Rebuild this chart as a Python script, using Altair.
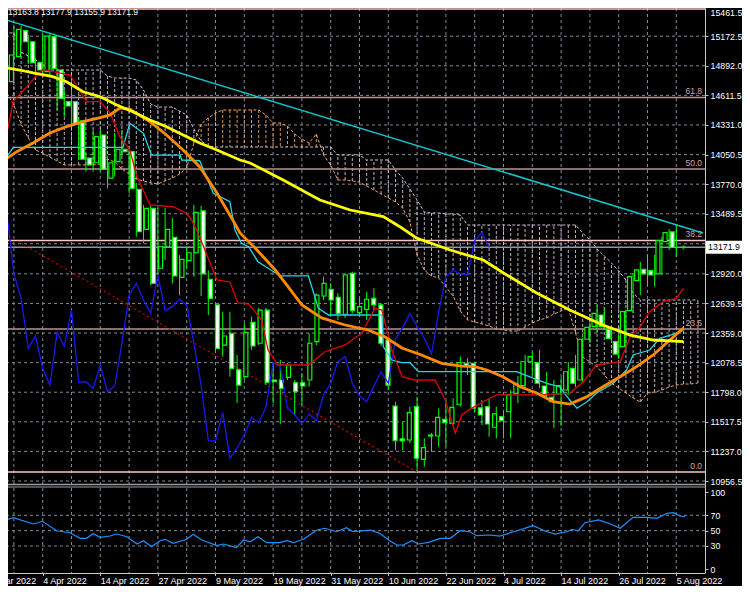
import altair as alt
import pandas as pd

# ---------------- data (bar index 0 = 4 Apr 2022, daily bars) ----------------
bar_index = list(range(-5, 89))
opens = [14741, 14978, 15225, 15120, 14921, 14836, 15168, 14852, 14552, 14552,
         14369, 14018, 13973, 14236, 13828, 13983, 14100, 14078, 13721, 13342,
         13541, 12973, 13177, 13266, 12887, 13045, 13120, 13516, 12868, 12625,
         12245, 12356, 12009, 11945, 12461, 12262, 12577, 11914, 11914, 11939,
         11888, 11888, 11914, 12277, 12710, 12773, 12698, 12537, 12925, 12552,
         12584, 12688, 12625, 12293, 11667, 11355, 11345, 11661, 11162, 11383,
         11383, 11541, 11503, 11684, 12072, 12072, 11649, 11661, 11466, 11566,
         11613, 11788, 11860, 12087, 12078, 11857, 11750, 11781, 11819, 12025,
         11914, 12300, 12419, 12530, 12395, 12277, 12230, 12571, 12855, 12963,
         12950, 12919, 13225, 13317]
highs = [15013, 15279, 15269, 15184, 14966, 15193, 15203, 14871, 14662, 14662,
         14407, 14065, 14283, 14283, 14030, 14255, 14283, 14113, 13781, 13573,
         13563, 13544, 13544, 13449, 13099, 13177, 13573, 13566, 12950, 12625,
         12561, 12561, 12151, 12454, 12514, 12596, 12596, 12072, 12103, 12075,
         11914, 11980, 12356, 12735, 12893, 12830, 12738, 12925, 12940, 12688,
         12751, 12783, 12641, 12324, 11708, 11519, 11661, 11756, 11361, 11411,
         11646, 11724, 11740, 12135, 12119, 12087, 11724, 11743, 11661, 11630,
         11819, 11952, 12151, 12179, 12198, 11990, 11914, 11940, 12084, 12151,
         12312, 12454, 12625, 12606, 12435, 12340, 12577, 12928, 13035, 13099,
         13099, 13272, 13345, 13383]
lows = [14662, 14947, 15089, 14909, 14824, 14805, 14805, 14473, 14410, 14312,
        13999, 13888, 13888, 13888, 13731, 13841, 14037, 13686, 13272, 13209,
        12814, 12925, 13051, 12830, 12720, 12973, 12893, 12710, 12530, 12170,
        12135, 11945, 11696, 11914, 12198, 12245, 11866, 11693, 11497, 11914,
        11582, 11677, 11850, 12245, 12672, 12530, 12482, 12502, 12546, 12514,
        12482, 12577, 12236, 11819, 11250, 11250, 11317, 11045, 11092, 11234,
        11282, 11282, 11487, 11661, 11961, 11611, 11487, 11376, 11361, 11361,
        11364, 11696, 11838, 11961, 11838, 11724, 11459, 11480, 11772, 11847,
        11885, 12264, 12359, 12388, 12274, 12122, 12198, 12549, 12719, 12814,
        12798, 12909, 13146, 13080]
closes = [14994, 15238, 15120, 14921, 14852, 15174, 14868, 14584, 14511, 14340,
          14006, 13952, 14220, 13911, 13973, 14100, 14078, 13731, 13319, 13541,
          12830, 13177, 13342, 12900, 13058, 13120, 13503, 12919, 12688, 12214,
          12331, 12025, 11866, 12366, 12236, 12577, 11892, 11898, 11835, 12056,
          11803, 11857, 12262, 12719, 12830, 12672, 12546, 12909, 12571, 12609,
          12679, 12625, 12262, 11866, 11339, 11336, 11604, 11172, 11272, 11393,
          11560, 11509, 11655, 12078, 12047, 11646, 11582, 11497, 11592, 11528,
          11772, 11883, 12087, 12135, 11883, 11765, 11708, 11860, 11992, 11883,
          12300, 12413, 12546, 12419, 12309, 12160, 12561, 12893, 12957, 12919,
          12909, 13234, 13310, 13171.9]

date_tick_index = list(range(-8, 89, 8))
date_tick_labels = ["23 Mar 2022", "4 Apr 2022", "14 Apr 2022", "27 Apr 2022",
                    "9 May 2022", "19 May 2022", "31 May 2022", "10 Jun 2022",
                    "22 Jun 2022", "4 Jul 2022", "14 Jul 2022", "26 Jul 2022",
                    "5 Aug 2022"]
price_ticks = [15461.5, 15172.5, 14892.0, 14611.5, 14331.0, 14050.5, 13770.0,
               13489.5, 12920.0, 12639.5, 12359.0, 12078.5, 11798.0, 11517.5,
               11237.0, 10956.5]
price_grid_extra = [13205.0]
rsi_ticks = [0, 30, 50, 70, 100]
rsi_grid = [30, 50, 70]

# moving averages (sampled vertices: bar index, price)
yellow_idx = [-5.9, -3.2, -1.35, 1.4, 3.3, 5.6, 8.0, 10.3, 12.5, 14.9,
              17.2, 19.5, 21.8, 24.2, 27.4, 28.8, 33.4, 38.5, 42.7, 47.3,
              49.6, 51.9, 56.6, 61.2, 64.0, 68.6, 73.2, 77.8, 81.6, 84.8, 89.0]
yellow_val = [14883, 14852, 14824, 14789, 14741, 14646, 14599, 14520, 14457, 14378,
              14315, 14236, 14160, 14094, 13999, 13971, 13810, 13620, 13525, 13462,
              13367, 13260, 13146, 13051, 12928, 12738, 12577, 12435, 12340, 12293, 12277]
orange_idx = [-5.9, -3.6, -1.35, 1.0, 3.3, 5.6, 8.0, 9.35, 10.7, 12.1,
              14.9, 17.2, 19.5, 21.8, 24.2, 26.4, 27.4, 29.5, 32.3, 36.0,
              38.75, 42.0, 45.2, 47.5, 49.9, 52.6, 55.4, 58.2, 60.0, 61.7,
              63.9, 66.3, 68.6, 70.9, 73.2, 75.6, 77.8, 80.2, 82.5, 84.8, 87.1, 89.0]
orange_val = [13971, 14078, 14160, 14255, 14315, 14362, 14400, 14426, 14492, 14482,
              14362, 14236, 14094, 13936, 13686, 13430, 13307, 13165, 12957, 12625,
              12502, 12435, 12388, 12324, 12217, 12151, 12072, 12046, 12040, 12009,
              11945, 11850, 11791, 11708, 11686, 11756, 11850, 11945, 12040, 12151, 12293, 12405]

# Ichimoku: tenkan (red), kijun (cyan)
tenkan_idx = [-5.7, -4.1, -2.2, -0.8, 0.1, 1.4, 3.8, 6.1, 8.0, 9.35,
              10.7, 12.1, 13.1, 14.9, 18.1, 20.0, 20.7, 21.8, 23.2, 24.2,
              26.0, 27.1, 28.6, 30.4, 31.3, 32.7, 36.9, 39.2, 42.0, 44.3,
              46.15, 47.1, 48.5, 49.9, 51.7, 54.5, 55.9, 57.3, 58.2, 59.3,
              61.2, 63.05, 68.6, 73.2, 75.1, 76.9, 80.2, 81.6, 83.0, 84.3,
              86.2, 88.0, 89.0]
tenkan_val = [13999, 14552, 14694, 14805, 14859, 14836, 14805, 14552, 14552, 14445,
              14220, 14094, 13841, 13573, 13556, 13494, 13430, 13269, 13032, 12862,
              12843, 12644, 12634, 12483, 12198, 12056, 12056, 12182, 12246, 12356,
              12593, 12577, 12198, 11945, 11914, 11914, 11724, 11409, 11582, 11636,
              11708, 11772, 11772, 11788, 11898, 12056, 12087, 12324, 12419, 12561,
              12656, 12688, 12783]
kijun_idx = [-5.9, -4.1, 11.15, 12.1, 14.0, 15.1, 19.1, 19.3, 21.8, 23.7,
             26.0, 26.7, 27.6, 28.6, 29.9, 33.0, 36.9, 38.3, 39.7, 47.1,
             47.3, 48.5, 49.9, 51.0, 52.2, 65.8, 70.0, 71.8, 73.2, 74.2,
             75.6, 76.9, 79.25, 81.1, 82.0, 84.3, 85.7, 88.0, 89.0]
kijun_val = [13936, 14119, 14119, 14347, 14252, 14046, 14046, 13999, 13992, 13683,
             13604, 13336, 13210, 13177, 13035, 12900, 12900, 12593, 12530, 12530,
             12230, 12103, 12078, 12078, 11993, 11993, 11883, 11850, 11724, 11646,
             11708, 11788, 11883, 12009, 12151, 12198, 12309, 12356, 12388]

# Ichimoku cloud (Senkou span A / B), one value per bar from -6 to 91
span_idx = list(range(-6, 92))
span_a = [14700, 14634, 14520, 14340, 14208, 14094, 14065, 14027, 13990, 13952,
          13952, 13952, 13952, 13952, 13961, 14008, 13980, 13914, 13866, 13819,
          13800, 13781, 13772, 13800, 13828, 13866, 13923, 14160, 14340, 14397,
          14444, 14473, 14473, 14473, 14473, 14473, 14473, 14425, 14350, 14350,
          14321, 14245, 14198, 14160, 14245, 14046, 13952, 13809, 13809, 13800,
          13790, 13753, 13715, 13677, 13639, 13601, 13544, 13411, 13099, 12956,
          12900, 12881, 12795, 12710, 12568, 12483, 12464, 12445, 12426, 12397,
          12388, 12378, 12378, 12416, 12454, 12483, 12502, 12539, 12568, 12596,
          12359, 12132, 12085, 12037, 11961, 11885, 11838, 11791, 11743, 11705,
          11791, 11800, 11819, 11847, 11866, 11876, 11876, 11885]
span_b = ([15203, 15203, 15203, 15023, 14985, 14947, 14909] + [14852] * 8 +
          [14795, 14776, 14776, 14776, 14757, 14662, 14530, 14501, 14501, 14501,
           14463, 14425, 14293, 14179, 14132] + [14122] * 17 + [14046] * 4 +
          [13999] * 4 +
          [13904, 13828, 13724, 13620, 13506, 13497, 13497, 13487, 13487, 13478] +
          [13383] * 16 + [13307, 13241, 13156, 13089, 13023, 12947, 12862] +
          [12739] + [12672] * 9)

# RSI (sub window)
rsi_idx = [-5.9, -4.1, -1.3, 0.0, 1.9, 3.8, 5.2, 6.1, 7.0, 8.0,
           9.35, 10.3, 11.7, 13.1, 14.0, 15.1, 16.3, 17.0, 18.1, 20.0,
           20.9, 22.1, 24.2, 25.1, 26.9, 27.9, 28.8, 29.9, 31.1, 32.9,
           33.9, 34.8, 36.2, 38.1, 39.2, 40.8, 42.2, 43.1, 45.5, 46.8,
           48.2, 49.2, 50.1, 51.25, 52.2, 53.6, 55.2, 56.6, 58.0, 59.3,
           60.3, 62.1, 63.5, 65.4, 68.1, 70.0, 71.2, 72.8, 73.5, 74.4,
           75.3, 77.2, 78.6, 80.2, 82.0, 83.9, 85.3, 86.7, 87.6, 88.5, 89.2]
rsi_val = [61.7, 66.9, 58.7, 62.2, 49.9, 47.3, 40.0, 40.0, 46.0, 41.3,
           43.0, 45.6, 42.1, 32.6, 36.9, 29.1, 36.9, 38.7, 33.5, 38.7,
           45.2, 37.8, 30.4, 32.6, 27.8, 37.8, 35.5, 42.1, 34.3, 34.3,
           36.9, 34.3, 38.7, 50.8, 53.1, 48.6, 53.8, 48.6, 50.8, 46.5,
           36.9, 31.3, 31.3, 36.9, 32.6, 34.8, 40.0, 40.0, 49.9, 48.6,
           43.4, 44.3, 43.0, 48.6, 56.5, 48.6, 45.6, 48.6, 51.8, 49.9,
           60.4, 63.9, 59.6, 53.1, 67.4, 67.4, 66.1, 72.6, 73.4, 69.1, 68.2]

# Fibonacci retracement
fib_labels = ["0.0", "23.6", "38.2", "50.0", "61.8", ""]
fib_prices = [11042, 12398, 13237, 13914.5, 14592, 15431]
fib_colors = ["#FFC4C8", "#B89494", "#FFC4C8", "#B89494", "#B89494", "#FFC4C8"]

# trend lines
cyan_tl_idx = [-5.93, 91.7]
cyan_tl_val = [15345, 13307]
red_tl_idx = [-5.93, 52.0]
red_tl_val = [13326, 11042]

last_price = 13171.9
header_text = "13163.8 13177.9 13155.9 13171.9"

# ---------------- styling / geometry ----------------
W, H = 734, 578
FONT = "Liberation Sans"
GRID = "#7d8b99"
X_LEFT, X_RIGHT = -5.93, 91.99
XS = alt.Scale(domain=[-8, 97.125], range=[-22.9, W], nice=False, zero=False)
PS = alt.Scale(domain=[9961.4, 15461.5], range=[H, -2.3], nice=False, zero=False)
RS = alt.Scale(domain=[-22.16, 731.4], range=[H, 0], nice=False, zero=False)
AX_X = 697      # right edge of the price window
AX_Y = 565.5    # bottom edge of the RSI window
LBL = 8.8


def xq(f, axis=None):
    return alt.X(f"{f}:Q", scale=XS, axis=axis)


def yp(f, axis=None):
    return alt.Y(f"{f}:Q", scale=PS, axis=axis)


def yr(f, axis=None):
    return alt.Y(f"{f}:Q", scale=RS, axis=axis)


label_list = "[" + ",".join(f"'{s}'" for s in date_tick_labels) + "]"
x_axis = alt.Axis(orient="bottom", offset=AX_Y - H, values=date_tick_index,
                  labelExpr=f"{label_list}[(datum.value + 8) / 8]",
                  labelAlign="left", labelBaseline="top", labelFlush=False,
                  labelOverlap=False, labelColor="#FFFFFF", labelFont=FONT,
                  labelFontSize=9, labelPadding=1, tickColor="#C8C8C8",
                  tickSize=2, domain=False, grid=False, title=None, zindex=2)
p_axis = alt.Axis(orient="right", offset=AX_X - W, values=price_ticks, format=".1f",
                  labelColor="#FFFFFF", labelFont=FONT, labelFontSize=LBL,
                  labelPadding=2, labelFlush=False, labelOverlap=False,
                  labelOffset=alt.condition("datum.value > 15400", alt.value(7), alt.value(0)),
                  tickColor="#C8C8C8", tickSize=3, domain=False, grid=False,
                  title=None, zindex=2)
r_axis = alt.Axis(orient="right", offset=AX_X - W, values=rsi_ticks, format="d",
                  labelColor="#FFFFFF", labelFont=FONT, labelFontSize=LBL,
                  labelPadding=2, labelFlush=False, labelOverlap=False,
                  tickColor="#C8C8C8", tickSize=3, domain=False, grid=False,
                  title=None, zindex=2)

# ---------------- frames ----------------
cdf = pd.DataFrame({"i": bar_index, "o": opens, "h": highs, "l": lows, "c": closes})
cdf["lo"] = cdf[["o", "c"]].min(axis=1)
cdf["hi"] = cdf[["o", "c"]].max(axis=1)
cdf["fill"] = ["#000000" if c >= o else "#FFFFFF" for o, c in zip(opens, closes)]

chikou = pd.DataFrame({"i": bar_index[:-26], "p": closes[26:]})

cloud = pd.DataFrame({"i": span_idx, "a": span_a, "b": span_b})
cloud["col"] = ["#F4A460" if a > b else "#D8BFD8" for a, b in zip(span_a, span_b)]

vgrid = pd.DataFrame({"i": list(range(-4, 89, 4))})
hgrid = pd.DataFrame({"p": price_ticks + price_grid_extra, "x0": X_LEFT, "x1": X_RIGHT})
rgrid = pd.DataFrame({"r": rsi_grid, "x0": X_LEFT, "x1": X_RIGHT})
fib = pd.DataFrame({"p": fib_prices, "lab": fib_labels, "col": fib_colors,
                    "x0": X_LEFT, "x1": X_RIGHT})
last = pd.DataFrame({"p": [last_price], "x0": X_LEFT, "x1": X_RIGHT,
                     "lo": [last_price - 62], "hi": [last_price + 62],
                     "txt": [f"{last_price:.1f}"], "i": [89.0]})
one = pd.DataFrame({"k": [0]})

# ---------------- layers ----------------
l_vgrid = alt.Chart(vgrid).mark_rule(color=GRID, strokeDash=[3, 3], strokeWidth=1).encode(
    x=xq("i", x_axis), y=alt.value(0), y2=alt.value(AX_Y))
l_hgrid = alt.Chart(hgrid).mark_rule(color=GRID, strokeDash=[3, 3], strokeWidth=1).encode(
    x=xq("x0"), x2="x1:Q", y=yp("p", p_axis))
l_rgrid = alt.Chart(rgrid).mark_rule(color=GRID, strokeDash=[3, 3], strokeWidth=1).encode(
    x=xq("x0"), x2="x1:Q", y=yr("r", r_axis))

l_hatch = alt.Chart(cloud).mark_rule(strokeDash=[3, 2], strokeWidth=1, opacity=0.9).encode(
    x=xq("i"), y=yp("a"), y2="b:Q", color=alt.Color("col:N", scale=None))
l_spana = alt.Chart(cloud).mark_line(color="#F4A460", strokeDash=[3, 2], strokeWidth=1).encode(
    x=xq("i"), y=yp("a"))
l_spanb = alt.Chart(cloud).mark_line(color="#D8BFD8", strokeDash=[3, 2], strokeWidth=1).encode(
    x=xq("i"), y=yp("b"))

l_fib = alt.Chart(fib).mark_rule(strokeWidth=1.5).encode(
    x=xq("x0"), x2="x1:Q", y=yp("p"), color=alt.Color("col:N", scale=None))
l_fibtxt = alt.Chart(fib).mark_text(align="right", baseline="bottom", dy=-1, font=FONT,
                                    fontSize=8.5, color="#D4A5A5").encode(
    x=alt.value(AX_X - 3), y=yp("p"), text="lab:N")
l_bid = alt.Chart(last).mark_rule(color="#8a98a8", strokeWidth=1.5).encode(
    x=xq("x0"), x2="x1:Q", y=yp("p"))

l_cyan_tl = alt.Chart(pd.DataFrame({"i": cyan_tl_idx, "p": cyan_tl_val})).mark_line(
    color="#12C4CC", strokeWidth=1.5).encode(x=xq("i"), y=yp("p"))
l_red_tl = alt.Chart(pd.DataFrame({"i": red_tl_idx, "p": red_tl_val})).mark_line(
    color="#C80000", strokeDash=[2, 3], strokeWidth=1.2).encode(x=xq("i"), y=yp("p"))

l_chikou = alt.Chart(chikou).mark_line(color="#1818F0", strokeWidth=1.3).encode(
    x=xq("i"), y=yp("p"))
l_kijun = alt.Chart(pd.DataFrame({"i": kijun_idx, "p": kijun_val})).mark_line(
    color="#22D8E6", strokeWidth=1.3).encode(x=xq("i"), y=yp("p"))
l_tenkan = alt.Chart(pd.DataFrame({"i": tenkan_idx, "p": tenkan_val})).mark_line(
    color="#E00000", strokeWidth=1.3).encode(x=xq("i"), y=yp("p"))

l_wick = alt.Chart(cdf).mark_rule(color="#00FF00", strokeWidth=1).encode(
    x=xq("i"), y=yp("l"), y2="h:Q")
l_body = alt.Chart(cdf).mark_bar(width=4, stroke="#00FF00", strokeWidth=1.2).encode(
    x=xq("i"), y=yp("lo"), y2="hi:Q", fill=alt.Fill("fill:N", scale=None))

l_yellow = alt.Chart(pd.DataFrame({"i": yellow_idx, "p": yellow_val})).mark_line(
    color="#FFFF00", strokeWidth=2.8).encode(x=xq("i"), y=yp("p"))
l_orange = alt.Chart(pd.DataFrame({"i": orange_idx, "p": orange_val})).mark_line(
    color="#FF8C00", strokeWidth=2.8).encode(x=xq("i"), y=yp("p"))

l_rsi = alt.Chart(pd.DataFrame({"i": rsi_idx, "r": rsi_val})).mark_line(
    color="#1E90FF", strokeWidth=1.2).encode(x=xq("i"), y=yr("r"))

l_cross = alt.Chart(last).mark_point(shape="cross", filled=True, size=18, color="#00FF00").encode(
    x=xq("i"), y=yp("p"))
l_box = alt.Chart(last).mark_rect(color="#FFFFFF").encode(
    x=alt.value(AX_X + 1), x2=alt.value(W), y=yp("lo"), y2="hi:Q")
l_boxtxt = alt.Chart(last).mark_text(align="center", baseline="middle", font=FONT,
                                     fontSize=LBL, color="#000000").encode(
    x=alt.value((AX_X + 1 + W) / 2), y=yp("p"), text="txt:N")
l_header = alt.Chart(pd.DataFrame({"t": [header_text]})).mark_text(
    align="left", baseline="top", font=FONT, fontSize=8.5, color="#FFFFFF").encode(
    x=alt.value(0), y=alt.value(0), text="t:N")

# frame lines of the two windows
l_sep1 = alt.Chart(one).mark_rule(color="#9a9a9a", strokeWidth=1.5).encode(
    x=alt.value(0), x2=alt.value(AX_X), y=alt.value(476.5))
l_sep2 = alt.Chart(one).mark_rule(color="#6a6a6a", strokeWidth=1.5).encode(
    x=alt.value(0), x2=alt.value(AX_X), y=alt.value(479))
l_bottom = alt.Chart(one).mark_rule(color="#C8C8C8", strokeWidth=1).encode(
    x=alt.value(0), x2=alt.value(AX_X), y=alt.value(AX_Y))
l_right = alt.Chart(one).mark_rule(color="#C8C8C8", strokeWidth=1).encode(
    x=alt.value(AX_X + 0.5), y=alt.value(0), y2=alt.value(AX_Y))

chart = alt.layer(
    l_vgrid, l_hgrid, l_rgrid, l_hatch, l_spana, l_spanb, l_fib, l_bid, l_cyan_tl,
    l_red_tl, l_wick, l_body, l_chikou, l_kijun, l_tenkan, l_orange, l_yellow, l_rsi,
    l_fibtxt, l_cross, l_box, l_boxtxt, l_header, l_sep1, l_sep2, l_bottom, l_right,
).resolve_scale(x="independent", y="independent").properties(
    width=W, height=H,
    autosize=alt.AutoSizeParams(type="none"),
    padding=0,
    background="#000000",
).configure_view(stroke=None)

chart.save("out.html", embed_options={"renderer": "svg", "actions": False})
